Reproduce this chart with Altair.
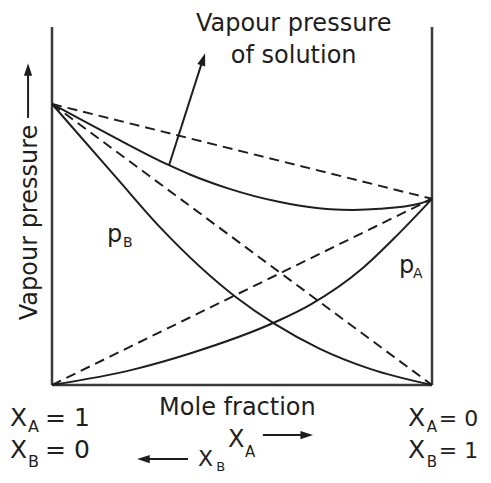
import altair as alt
import pandas as pd

# ---- data (x: position along the mole-fraction axis, 0 = left edge (X_A = 1), 1 = right edge (X_B = 1);
#            y: vapour pressure, arbitrary units) ----
pB_x = [0.0, 0.171, 0.284, 0.487, 0.587, 0.705, 0.837, 1.0]
pB_y = [78.5, 57.7, 44.1, 24.3, 17.0, 10.1, 4.5, 0.0]

pA_x = [0.0, 0.213, 0.363, 0.592, 0.679, 0.818, 0.908, 1.0]
pA_y = [0.0, 4.3, 8.8, 17.8, 22.4, 32.7, 41.8, 52.0]

total_x = [0.0, 0.153, 0.308, 0.363, 0.461, 0.6, 0.653, 0.732, 0.792, 0.863, 0.968, 1.0]
total_y = [78.5, 69.8, 61.4, 58.8, 55.0, 51.1, 50.1, 49.1, 48.9, 49.2, 50.7, 52.0]

pure_left = 78.5   # vapour pressure at the left edge
pure_right = 52.0  # vapour pressure at the right edge

FONT = "DejaVu Sans"
INK = "#1e1e1e"
FRAME = "#3a3a3a"
ARROW = "M0,0L0.65,2L-0.65,2Z"

xs = alt.Scale(domain=[0, 1], nice=False, zero=False)
ys = alt.Scale(domain=[0, 100], nice=False, zero=False)
one = alt.Data(values=[{"k": 0}])


def XD(v):
    return alt.XDatum(v, type="quantitative", scale=xs, axis=None)


def YD(v):
    return alt.YDatum(v, type="quantitative", scale=ys, axis=None)


def X2D(v):
    return alt.X2Datum(v)


def Y2D(v):
    return alt.Y2Datum(v)


def curve(xv, yv):
    df = pd.DataFrame({"x": xv, "y": yv})
    return alt.Chart(df).mark_line(interpolate="monotone", color=INK, strokeWidth=2).encode(
        x=alt.X("x:Q", scale=xs, axis=None),
        y=alt.Y("y:Q", scale=ys, axis=None),
    )


def dashed(x0, y0, x1, y1):
    return alt.Chart(one).mark_rule(color=INK, strokeWidth=2, strokeDash=[10, 6]).encode(
        x=XD(x0), y=YD(y0), x2=X2D(x1), y2=Y2D(y1)
    )


def rule(x0, y0, x1, y1, color=INK, w=2):
    return alt.Chart(one).mark_rule(color=color, strokeWidth=w).encode(
        x=XD(x0), y=YD(y0), x2=X2D(x1), y2=Y2D(y1)
    )


def head(x, y, angle):
    return alt.Chart(one).mark_point(
        shape=ARROW, filled=True, size=160, angle=angle, color=INK, opacity=1
    ).encode(x=XD(x), y=YD(y))


def txt(s, x, y, size, align="left", angle=0):
    return alt.Chart(one).mark_text(
        text=s, font=FONT, fontSize=size, align=align, baseline="alphabetic",
        angle=angle, color=INK
    ).encode(x=XD(x), y=YD(y))


layers = [
    # frame
    rule(0, 0, 0, 100, FRAME, 2.5),
    rule(1, 0, 1, 100, FRAME, 2.5),
    rule(0, 0, 1, 0, FRAME, 2.5),
    # ideal (Raoult) dashed lines
    dashed(0, pure_left, 1, 0),
    dashed(0, 0, 1, pure_right),
    dashed(0, pure_left, 1, pure_right),
    # real curves
    curve(pB_x, pB_y),
    curve(pA_x, pA_y),
    curve(total_x, total_y),
    # arrow to "Vapour pressure of solution"
    rule(0.308, 61.4, 0.3976, 91.1),
    head(0.403, 92.7, 18),
    txt("Vapour pressure", 0.636, 98.9, 24, "center"),
    txt("of solution", 0.636, 89.9, 24, "center"),
    # y label with arrow
    txt("Vapour pressure", -0.0395, 45.4, 24, "center", 270),
    rule(-0.063, 74.6, -0.063, 88.3),
    head(-0.063, 89.9, 0),
    # curve labels
    txt("p", 0.145, 39.9, 24),
    txt("B", 0.187, 38.5, 14),
    txt("p", 0.913, 31.3, 24),
    txt("A", 0.95, 29.9, 14),
    # x title
    txt("Mole fraction", 0.488, -8.4, 24, "center"),
    # left end labels
    txt("X", -0.1105, -11.45, 25),
    txt("A", -0.0632, -13.1, 16),
    txt("= 1", -0.0184, -11.45, 25),
    txt("X", -0.1105, -20.4, 25),
    txt("B", -0.0632, -22.9, 16),
    txt("= 0", -0.0184, -20.4, 25),
    # right end labels
    txt("X", 0.937, -11.45, 25),
    txt("A", 0.986, -13.1, 15),
    txt("= 0", 1.018, -11.45, 22),
    txt("X", 0.937, -20.4, 25),
    txt("B", 0.986, -22.9, 15),
    txt("= 1", 1.018, -20.4, 22),
    # direction arrows
    txt("X", 0.463, -17.3, 24),
    txt("A", 0.508, -20.1, 15),
    rule(0.555, -14.0, 0.671, -14.0),
    head(0.687, -14.0, 90),
    rule(0.358, -20.7, 0.2395, -20.7),
    head(0.224, -20.7, 270),
    txt("X", 0.384, -22.6, 22),
    txt("B", 0.432, -24.0, 13),
]

chart = alt.layer(*layers).properties(
    width=380,
    height=358,
    autosize="none",
    padding={"left": 44, "top": 19, "right": 51, "bottom": 90},
    background="white",
).configure_view(stroke=None)

chart.save("out.html", embed_options={"renderer": "svg", "actions": False})
